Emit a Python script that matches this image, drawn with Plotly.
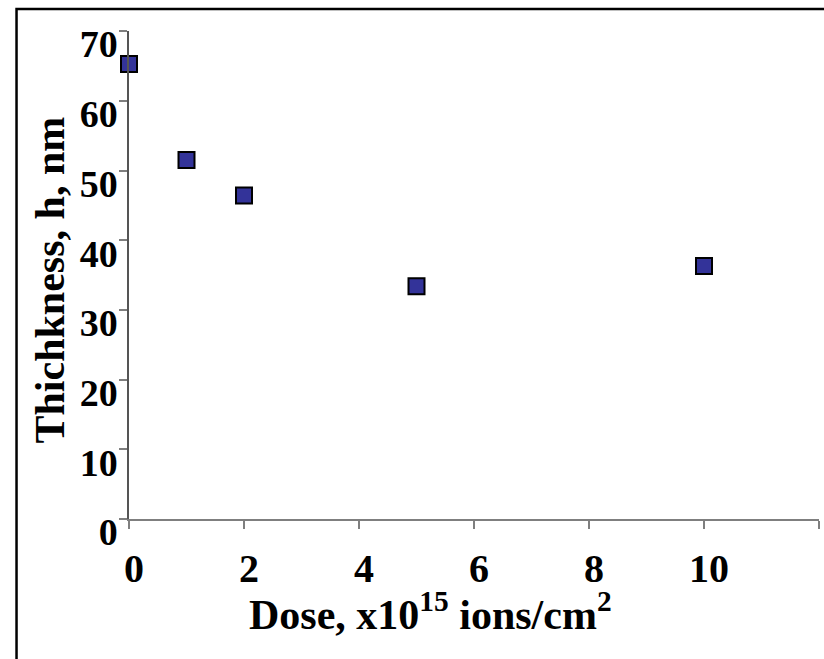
import plotly.graph_objects as go

# Implantation dose (x10^15 ions/cm^2) and measured layer thickness (nm)
dose = [0, 1, 2, 5, 10]
thickness = [65.3, 51.5, 46.4, 33.4, 36.3]

x_ticks = [0, 2, 4, 6, 8, 10, 12]
x_tick_labels = ["0", "2", "4", "6", "8", "10", ""]
y_ticks = [0, 10, 20, 30, 40, 50, 60, 70]
y_tick_labels = ["0", "10", "20", "30", "40", "50", "60", "70"]

serif = "Liberation Serif, Times New Roman, serif"

fig = go.Figure()
fig.add_trace(go.Scatter(
    x=dose, y=thickness, mode="markers",
    marker=dict(symbol="square", size=16, color="#333399",
                line=dict(color="black", width=2)),
    showlegend=False, cliponaxis=False,
))

fig.update_layout(
    width=824, height=659,
    margin=dict(l=129, r=5, t=31, b=140),
    paper_bgcolor="white", plot_bgcolor="white",
    font=dict(family=serif, color="black"),
    xaxis=dict(
        range=[0, 12], tickvals=x_ticks, ticktext=x_tick_labels,
        showgrid=False, zeroline=False,
        showline=True, linecolor="#7f7f7f", linewidth=1.5,
        ticks="outside", ticklen=8, tickcolor="#7f7f7f", tickwidth=1.5,
        tickfont=dict(family=serif, size=40, weight="bold", color="black"),
        ticklabelshift=5, ticklabelstandoff=5,
    ),
    yaxis=dict(
        range=[0, 70.02], tickvals=y_ticks, ticktext=y_tick_labels,
        showgrid=False, zeroline=False,
        showline=True, linecolor="#555555", linewidth=1.5,
        ticks="outside", ticklen=8, tickcolor="#7f7f7f", tickwidth=1.5,
        tickfont=dict(family=serif, size=38, weight="bold", color="black"),
        ticklabelshift=13, ticklabelstandoff=-6,
    ),
    shapes=[dict(type="rect", xref="paper", yref="paper",
                 x0=-0.163, x1=1.03, y0=-0.32, y1=1.045,
                 line=dict(color="black", width=2.5), fillcolor="rgba(0,0,0,0)",
                 layer="below")],
    annotations=[
        dict(text="Dose, x10<sup>15</sup> ions/cm<sup>2</sup>",
             xref="paper", yref="paper", x=0.437, y=-0.19,
             xanchor="center", yanchor="middle", showarrow=False,
             font=dict(family=serif, size=42, weight="bold", color="black")),
        dict(text="Thichkness, h, nm", textangle=-90,
             xref="paper", yref="paper", x=-0.115, y=0.49,
             xanchor="center", yanchor="middle", showarrow=False,
             font=dict(family=serif, size=42, weight="bold", color="black")),
    ],
)

fig.write_html("out.html")
